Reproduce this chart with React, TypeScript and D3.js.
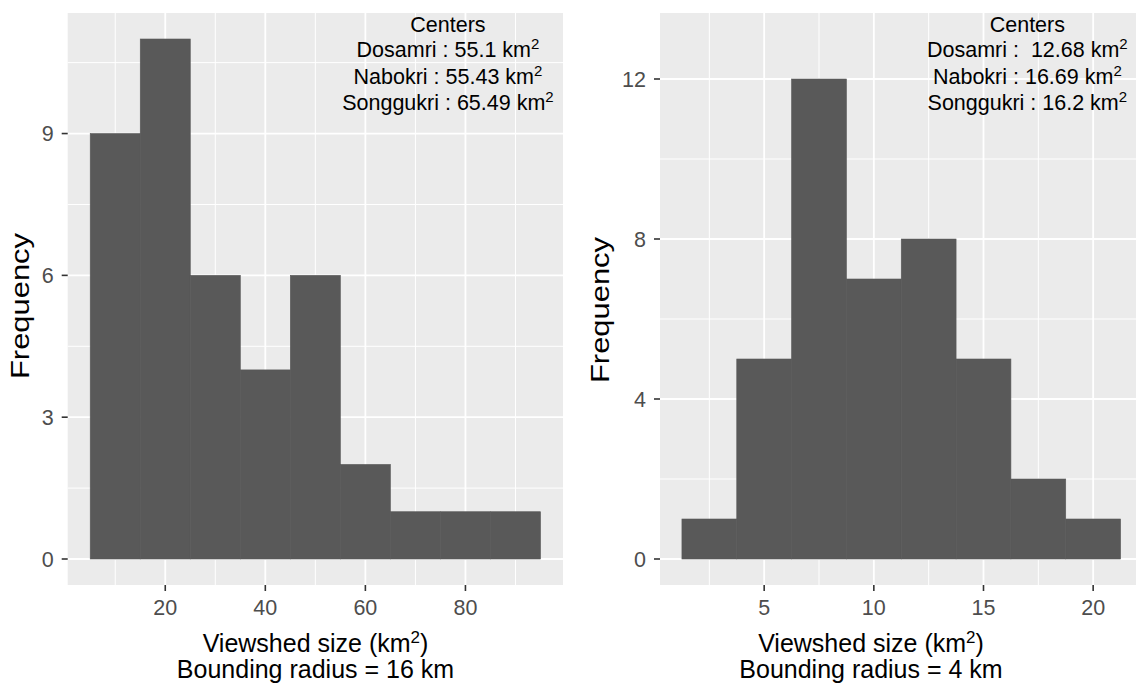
import * as d3 from "d3";
import React from "react";

// left histogram (bounding radius 16 km), bin width 10
const leftBinStarts = [5, 15, 25, 35, 45, 55, 65, 75, 85];
const leftCounts = [9, 11, 6, 4, 6, 2, 1, 1, 1];
const leftXTicks = [20, 40, 60, 80];
const leftXMinor = [10, 30, 50, 70, 90];
const leftYTicks = [0, 3, 6, 9];
const leftYMinor = [1.5, 4.5, 7.5, 10.5];
const leftCenters = ["Dosamri : 55.1", "Nabokri : 55.43", "Songgukri : 65.49"];

// right histogram (bounding radius 4 km), bin width 2.5
const rightBinStarts = [1.25, 3.75, 6.25, 8.75, 11.25, 13.75, 16.25, 18.75];
const rightCounts = [1, 5, 12, 7, 8, 5, 2, 1];
const rightXTicks = [5, 10, 15, 20];
const rightXMinor = [2.5, 7.5, 12.5, 17.5];
const rightYTicks = [0, 4, 8, 12];
const rightYMinor = [2, 6, 10];
const rightCenters = ["Dosamri :  12.68", "Nabokri : 16.69", "Songgukri : 16.2"];

const FONT = "'Liberation Sans', Arial, Helvetica, sans-serif";

function Panel({ cfg }) {
  const x = d3.scaleLinear().domain(cfg.xDomain).range([cfg.left, cfg.right]);
  const y = d3.scaleLinear().domain(cfg.yDomain).range([cfg.bottom, cfg.top]);
  const w = cfg.right - cfg.left;
  const h = cfg.bottom - cfg.top;
  const annX = x(cfg.annX);

  return (
    <g fontFamily={FONT}>
      <rect x={cfg.left} y={cfg.top} width={w} height={h} fill="#EBEBEB" />
      {/* minor grid */}
      {cfg.yMinor.map((v) => (
        <line key={"ym" + v} x1={cfg.left} x2={cfg.right} y1={y(v)} y2={y(v)} stroke="#fff" strokeWidth={1} />
      ))}
      {cfg.xMinor.map((v) => (
        <line key={"xm" + v} y1={cfg.top} y2={cfg.bottom} x1={x(v)} x2={x(v)} stroke="#fff" strokeWidth={1} />
      ))}
      {/* major grid */}
      {cfg.yTicks.map((v) => (
        <line key={"yg" + v} x1={cfg.left} x2={cfg.right} y1={y(v)} y2={y(v)} stroke="#fff" strokeWidth={1.8} />
      ))}
      {cfg.xTicks.map((v) => (
        <line key={"xg" + v} y1={cfg.top} y2={cfg.bottom} x1={x(v)} x2={x(v)} stroke="#fff" strokeWidth={1.8} />
      ))}
      {/* bars */}
      {cfg.bins.map((b, i) => (
        <rect
          key={"b" + i}
          x={x(b)}
          y={y(cfg.counts[i])}
          width={x(b + cfg.binWidth) - x(b)}
          height={y(0) - y(cfg.counts[i])}
          fill="#595959"
          stroke="#595959"
          strokeWidth={0.6}
        />
      ))}
      {/* annotation */}
      <text x={annX} y={cfg.top + 19} textAnchor="middle" fontSize={21.5} fill="#000">
        Centers
      </text>
      {cfg.centers.map((s, i) => (
        <text
          key={"c" + i}
          x={annX}
          y={cfg.top + 44 + i * 26.5}
          textAnchor="middle"
          fontSize={21.5}
          fill="#000"
          style={{ whiteSpace: "pre" }}
        >
          {s + " km"}
          <tspan dy={-8} fontSize={15}>2</tspan>
        </text>
      ))}
      {/* y axis */}
      {cfg.yTicks.map((v) => (
        <g key={"yt" + v}>
          <line x1={cfg.left - 6} x2={cfg.left} y1={y(v)} y2={y(v)} stroke="#333" strokeWidth={1.6} />
          <text x={cfg.left - 14} y={y(v)} dy="0.36em" textAnchor="end" fontSize={21.5} fill="#4D4D4D">
            {v}
          </text>
        </g>
      ))}
      {/* x axis */}
      {cfg.xTicks.map((v) => (
        <g key={"xt" + v}>
          <line y1={cfg.bottom} y2={cfg.bottom + 6} x1={x(v)} x2={x(v)} stroke="#333" strokeWidth={1.6} />
          <text x={x(v)} y={cfg.bottom + 30} textAnchor="middle" fontSize={21.5} fill="#4D4D4D">
            {v}
          </text>
        </g>
      ))}
      {/* titles */}
      <text
        transform={`translate(${cfg.yTitleX},${cfg.yTitleY}) rotate(-90)`}
        textAnchor="middle"
        fontSize={25}
        textLength={146}
        lengthAdjust="spacingAndGlyphs"
        fill="#000"
      >
        Frequency
      </text>
      <text x={cfg.xTitleX} y={652} textAnchor="middle" fontSize={25} fill="#000">
        Viewshed size (km
        <tspan dy={-9} fontSize={17}>2</tspan>
        <tspan dy={9}>)</tspan>
      </text>
      <text x={cfg.xTitleX} y={678} textAnchor="middle" fontSize={25} fill="#000">
        {cfg.subtitle}
      </text>
    </g>
  );
}

export default function App() {
  const leftCfg = {
    left: 67.7,
    right: 563,
    top: 13,
    bottom: 585,
    xDomain: [0.5, 99.5],
    yDomain: [-0.55, 11.55],
    bins: leftBinStarts,
    counts: leftCounts,
    binWidth: 10,
    xTicks: leftXTicks,
    xMinor: leftXMinor,
    yTicks: leftYTicks,
    yMinor: leftYMinor,
    centers: leftCenters,
    annX: 76.5,
    yTitleX: 29,
    yTitleY: 306,
    xTitleX: 315.5,
    subtitle: "Bounding radius = 16 km",
  };
  const rightCfg = {
    left: 660,
    right: 1142.5,
    top: 13,
    bottom: 585,
    xDomain: [0.25, 22.25],
    yDomain: [-0.65, 13.65],
    bins: rightBinStarts,
    counts: rightCounts,
    binWidth: 2.5,
    xTicks: rightXTicks,
    xMinor: rightXMinor,
    yTicks: rightYTicks,
    yMinor: rightYMinor,
    centers: rightCenters,
    annX: 17.0,
    yTitleX: 609,
    yTitleY: 310,
    xTitleX: 871,
    subtitle: "Bounding radius = 4 km",
  };
  return (
    <svg
      width={1136}
      height={684}
      style={{ position: "absolute", left: 0, top: 0, display: "block", background: "#fff" }}
    >
      <rect width={1136} height={684} fill="#fff" />
      <Panel cfg={leftCfg} />
      <Panel cfg={rightCfg} />
    </svg>
  );
}
